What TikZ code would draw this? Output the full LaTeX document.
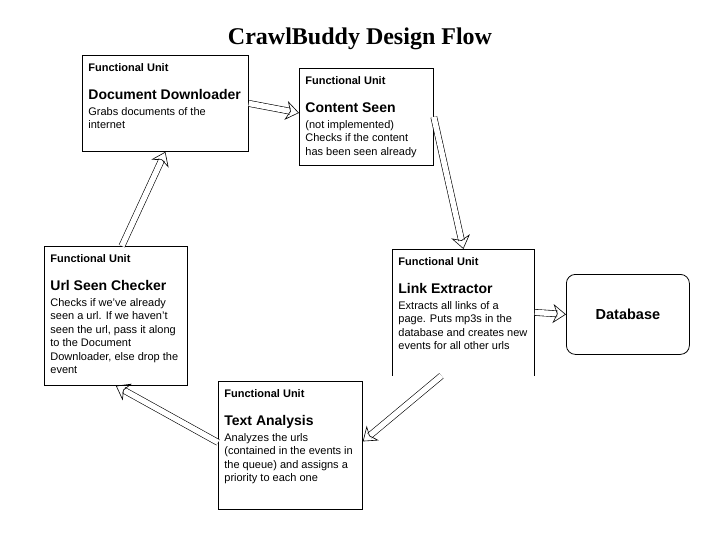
\documentclass[tikz,border=0pt]{standalone}
\usepackage{fontspec}
\setmainfont{Liberation Sans}
\newfontfamily\headserif{Liberation Serif}
\usetikzlibrary{arrows.meta}

% text of one functional unit box: width, height, name, description
\newcommand{\funit}[4]{\parbox[t][#2][t]{#1}{\fontsize{11}{13.5}\selectfont
    \rule{0pt}{16pt}\textbf{Functional Unit}\par
    {\fontsize{14}{28}\selectfont\bfseries #3\par}
    \vspace{2.5pt}#4}}

\tikzset{
    unit/.style={draw, line width=0.8pt, anchor=north west, inner xsep=6pt, inner ysep=0pt},
    store/.style={draw, line width=0.8pt, rounded corners=9pt, anchor=north west,
        minimum width=123pt, minimum height=80pt, font=\fontsize{14.5}{17}\selectfont\bfseries},
    flow/.style={double, double distance=5.5pt, line width=0.6pt,
        -{Stealth[open, length=13pt, width=19pt, inset=4pt]}}
}

\begin{document}
\begin{tikzpicture}[x=1pt, y=-1pt]
    \useasboundingbox (0,0) rectangle (720,540);
    \node[font=\headserif\bfseries\fontsize{24}{27}\selectfont] (title) at (360,39) {CrawlBuddy Design Flow};

    \node[unit] (dd) at (82,55) {\funit{154pt}{96pt}{Document Downloader}{Grabs documents of the\\internet}};
    \node[unit] (cs) at (299,68) {\funit{122pt}{97pt}{Content Seen}{(not implemented)\\Checks if the content\\has been seen already}};
    \node[unit] (us) at (44,246) {\funit{131pt}{139pt}{Url Seen Checker}{Checks if we've already\\seen a url. If we haven't\\seen the url, pass it along\\to the Document\\Downloader, else drop the\\event}};
    \node[unit, draw=none] (le) at (392,249) {\funit{130pt}{126pt}{Link Extractor}{Extracts all links of a\\page. Puts mp3s in the\\database and creates new\\events for all other urls}};
    \draw[line width=0.8pt] (le.south west) -- (le.north west) -- (le.north east) -- (le.south east);
    \node[unit] (ta) at (218,381) {\funit{132pt}{128pt}{Text Analysis}{Analyzes the urls\\(contained in the events in\\the queue) and assigns a\\priority to each one}};
    \node[store] (db) at (566,274) {Database};

    % the flow between the units
    \draw[flow] (dd.east) -- ([yshift=4pt]cs.west);
    \draw[flow] (cs.east) -- (le.north);
    \draw[flow] (le.east) -- (db.west);
    \draw[flow] ([xshift=-22pt]le.south) -- ([yshift=4pt]ta.east);
    \draw[flow] ([yshift=3pt]ta.west) -- (us.south);
    \draw[flow] ([xshift=6pt]us.north) -- (dd.south);
\end{tikzpicture}
\end{document}
